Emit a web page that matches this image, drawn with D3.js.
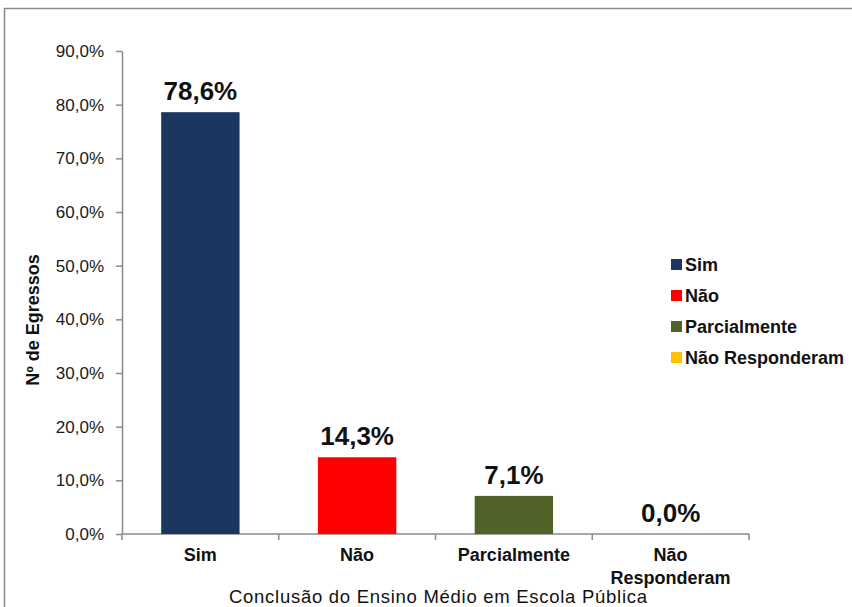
<!DOCTYPE html>
<html>
<head>
<meta charset="utf-8">
<script src="https://cdn.jsdelivr.net/npm/d3@7"></script>
<style>
  html, body { margin: 0; padding: 0; background: #fff; }
  svg { display: block; font-family: "Liberation Sans", Arial, sans-serif; }
</style>
</head>
<body>
<svg id="chart" width="852" height="607"></svg>
<script>
// Categories and their shares (%)
const categories = ["Sim", "Não", "Parcialmente", "Não Responderam"];
const values = [78.6, 14.3, 7.1, 0.0];
const colors = ["#1b365f", "#ff0000", "#4f6228", "#ffc000"];
const yTicks = [0, 10, 20, 30, 40, 50, 60, 70, 80, 90];
const xTitle = "Conclusão do Ensino Médio em Escola Pública";
const yTitle = "Nº de Egressos";

const fmt = v => v.toFixed(1).replace(".", ",") + "%";

const svg = d3.select("#chart");

// outer frame
svg.append("rect")
  .attr("x", 4.5).attr("y", 8.5)
  .attr("width", 900).attr("height", 700)
  .attr("fill", "none").attr("stroke", "#8a8a8a").attr("stroke-width", 1.5);

const plotLeft = 122, plotRight = 749, plotTop = 51, plotBottom = 534;

const x = d3.scaleBand().domain(categories).range([plotLeft, plotRight]).paddingInner(0.5).paddingOuter(0.25);
const y = d3.scaleLinear().domain([0, 90]).range([plotBottom, plotTop]);

// Y axis
const yAxis = svg.append("g")
  .attr("transform", `translate(${plotLeft},0)`)
  .call(d3.axisLeft(y).tickValues(yTicks).tickFormat(d => fmt(d)).tickSize(6).tickSizeOuter(0));
yAxis.select(".domain").attr("stroke", "#8a8a8a").attr("stroke-width", 1.5);
yAxis.selectAll(".tick line").attr("stroke", "#8a8a8a").attr("stroke-width", 1.5);
yAxis.selectAll(".tick text")
  .attr("x", -18)
  .attr("fill", "#1a1a1a")
  .style("font-size", "17px")
  .style("font-family", "'Liberation Sans', Arial, sans-serif");

// X axis line with boundary ticks
const step = x.step();
const boundaries = d3.range(categories.length + 1).map(i => plotLeft + i * step);
svg.append("line")
  .attr("x1", plotLeft).attr("x2", plotRight).attr("y1", plotBottom).attr("y2", plotBottom)
  .attr("stroke", "#8a8a8a").attr("stroke-width", 1.5);
svg.selectAll(".xtick").data(boundaries).enter().append("line")
  .attr("x1", d => d).attr("x2", d => d)
  .attr("y1", plotBottom).attr("y2", plotBottom + 6)
  .attr("stroke", "#8a8a8a").attr("stroke-width", 1.5);

// Bars
svg.selectAll(".bar").data(categories).enter().append("rect")
  .attr("x", d => x(d))
  .attr("y", (d, i) => y(values[i]))
  .attr("width", x.bandwidth())
  .attr("height", (d, i) => plotBottom - y(values[i]))
  .attr("fill", (d, i) => colors[i]);

// Value labels
svg.selectAll(".val").data(categories).enter().append("text")
  .attr("x", d => x(d) + x.bandwidth() / 2)
  .attr("y", (d, i) => y(values[i]) - 12)
  .attr("text-anchor", "middle")
  .style("font-size", "26px").style("font-weight", "bold")
  .attr("fill", "#111")
  .text((d, i) => fmt(values[i]));

// Category labels (long two-word label wraps onto two lines)
svg.selectAll(".cat").data(categories).enter().append("text")
  .attr("x", d => x(d) + x.bandwidth() / 2)
  .attr("y", 561)
  .attr("text-anchor", "middle")
  .style("font-size", "18px").style("font-weight", "bold")
  .attr("fill", "#111")
  .each(function(d) {
    const words = d.split(" ");
    const t = d3.select(this);
    if (words.length === 2 && d.length > 12) {
      words.forEach((w, i) => {
        t.append("tspan").attr("x", x(d) + x.bandwidth() / 2).attr("dy", i === 0 ? 0 : 23).text(w);
      });
    } else {
      t.text(d);
    }
  });

// Axis titles
svg.append("text")
  .attr("x", 438).attr("y", 603)
  .attr("text-anchor", "middle")
  .attr("textLength", 418).attr("lengthAdjust", "spacing")
  .style("font-size", "18.5px")
  .attr("fill", "#111")
  .text(xTitle);

svg.append("text")
  .attr("transform", "translate(39,320) rotate(-90)")
  .attr("text-anchor", "middle")
  .style("font-size", "18px").style("font-weight", "bold")
  .attr("fill", "#111")
  .text(yTitle);

// Legend
const legend = svg.append("g").attr("transform", "translate(671,271)");
categories.forEach((c, i) => {
  const g = legend.append("g").attr("transform", `translate(0,${i * 31})`);
  g.append("rect").attr("x", 0).attr("y", -12).attr("width", 11).attr("height", 11).attr("fill", colors[i]);
  g.append("text").attr("x", 14).attr("y", 0)
    .style("font-size", "18px").style("font-weight", "bold")
    .attr("fill", "#111")
    .text(c);
});
</script>
</body>
</html>
